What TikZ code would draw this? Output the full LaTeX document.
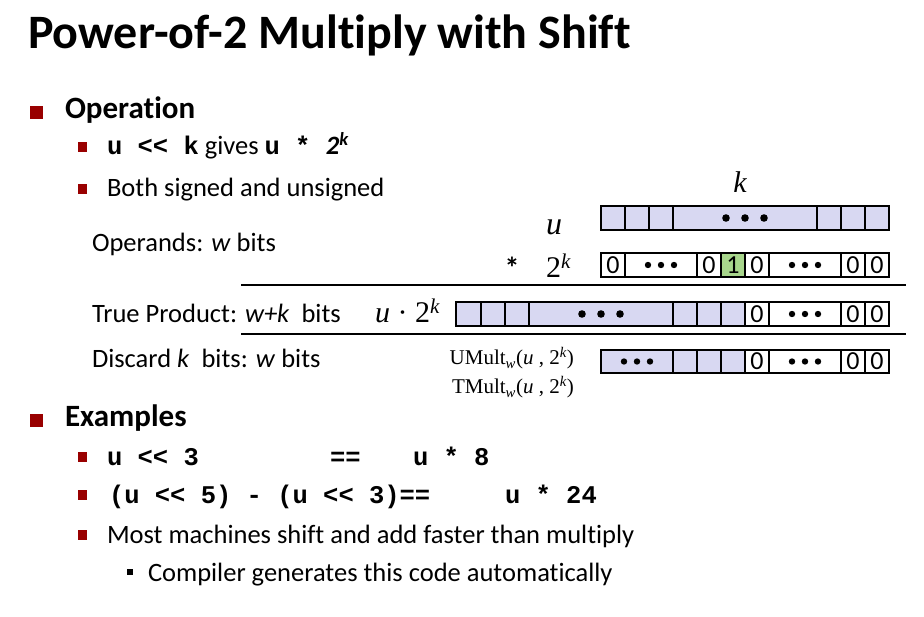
\documentclass[tikz,border=0pt]{standalone}
\usepackage{fontspec}
\setmainfont{Carlito}[Ligatures={TeX,NoCommon}]
\setmonofont{Liberation Mono}
\newfontfamily\timesfont{Liberation Serif}
\definecolor{slidered}{RGB}{153,0,0}
\definecolor{bitfill}{RGB}{216,216,242}
\definecolor{onefill}{RGB}{168,214,140}
\newcommand{\fsz}[1]{\fontsize{#1}{#1}\selectfont}

\begin{document}
\begin{tikzpicture}[x=1pt,y=-1pt,
  txt/.style={anchor=base west, inner sep=0pt, outer sep=0pt},
  titletext/.style={txt, font=\fsz{48}\bfseries},
  headtext/.style={txt, font=\fsz{31}\bfseries},
  bodytext/.style={txt, font=\fsz{26.5}},
  codetext/.style={txt, font=\fsz{25.5}\ttfamily\bfseries},
  mathlbl/.style={anchor=base, inner sep=0pt, font=\fsz{30}\timesfont\itshape},
  funclbl/.style={anchor=base east, inner sep=0pt, font=\fsz{21}\timesfont},
  bitcell/.style={draw=black, line width=1.8pt},
  bitdigit/.style={inner sep=0pt, font=\fsz{26}},
  rulebar/.style={draw=black, line width=2pt},
  bulletone/.style={fill=slidered},
  bullettwo/.style={fill=slidered},
  bulletthree/.style={fill=black}
]
\fill[white] (0,0) rectangle (924,617);
\useasboundingbox (0,0) rectangle (924,617);

% ---------- title ----------
\node[titletext] (title) at (28,49) {Power-of-2 Multiply with Shift};

% ---------- operation section ----------
\fill[bulletone] (30,106) rectangle (43,119);
\node[headtext] (ophead) at (65,119) {Operation};

\fill[bullettwo] (78,142) rectangle (87,152);
\node[bodytext] (shiftline) at (107,155)
  {{\ttfamily\bfseries\fsz{25.5}u <{}< k} gives {\ttfamily\bfseries\fsz{25.5}u * }{\bfseries\itshape 2\textsuperscript{k}}};

\fill[bullettwo] (78,184) rectangle (87,194);
\node[bodytext] (signline) at (107,197) {Both signed and unsigned};

\node[bodytext] (operands) at (92,252) {Operands: \textit{w} bits};
\node[bodytext] (trueprod) at (92,323) {True Product: \textit{w+k}\ \ bits};
\node[bodytext] (discard) at (92,368) {Discard \textit{k}\ \ bits: \textit{w} bits};

% ---------- bit vectors ----------
\node[mathlbl] (klbl) at (740,193) {k};
\node[mathlbl, font=\fsz{32}\timesfont\itshape] (ulbl) at (554,235) {u};
\node[anchor=base, inner sep=0pt, font=\fsz{30}\bfseries] (times) at (512,279) {*};
\node[anchor=base west, inner sep=0pt, font=\fsz{30}\timesfont] (twok) at (546,278) {2\textsuperscript{\itshape k}};
\node[anchor=base west, inner sep=0pt, font=\fsz{30}\timesfont] (prodlbl) at (375,323)
  {\textit{u} · 2\textsuperscript{\itshape k}};
\node[funclbl] (umult) at (574,365) {UMult\textsubscript{\itshape w}(\textit{u} , 2\textsuperscript{\itshape k})};
\node[funclbl] (tmult) at (574,394) {TMult\textsubscript{\itshape w}(\textit{u} , 2\textsuperscript{\itshape k})};

% separating rules around the true product
\coordinate (ruleAl) at (241,285); \coordinate (ruleAr) at (906,285);
\coordinate (ruleBl) at (241,334); \coordinate (ruleBr) at (906,334);
\draw[rulebar] (ruleAl) -- (ruleAr);
\draw[rulebar] (ruleBl) -- (ruleBr);

% operand u
\foreach \a/\b in {601/625,625/649,649/673,673/817,817/841,841/865,865/889}
  \draw[bitcell, fill=bitfill] (\a,206) rectangle (\b,230);
\foreach \x in {726,745,764} \fill (\x,218) circle[radius=3.8pt];

% operand 2^k
\foreach \a/\b in {601/625,625/697,697/721,745/769,769/841,841/865,865/889}
  \draw[bitcell, fill=white] (\a,253) rectangle (\b,277);
\draw[bitcell, fill=onefill] (721,253) rectangle (745,277);
\node[bitdigit] (p0) at (613,265) {0};
\node[bitdigit] (p1) at (709,265) {0};
\node[bitdigit] (p2) at (733,265) {1};
\node[bitdigit] (p3) at (757,265) {0};
\node[bitdigit] (p4) at (853,265) {0};
\node[bitdigit] (p5) at (877,265) {0};
\foreach \x in {648,661,674,792,805,818} \fill (\x,265) circle[radius=3.2pt];

% true product
\foreach \a/\b in {456/481,481/505,505/529,529/673,673/697,697/721,721/745}
  \draw[bitcell, fill=bitfill] (\a,302) rectangle (\b,326);
\foreach \a/\b in {745/769,769/841,841/865,865/889}
  \draw[bitcell, fill=white] (\a,302) rectangle (\b,326);
\foreach \x in {582,601,620} \fill (\x,314) circle[radius=3.8pt];
\node[bitdigit] (t0) at (757,314) {0};
\node[bitdigit] (t1) at (853,314) {0};
\node[bitdigit] (t2) at (877,314) {0};
\foreach \x in {792,805,818} \fill (\x,314) circle[radius=3.2pt];

% truncated result
\foreach \a/\b in {601/673,673/697,697/721,721/745}
  \draw[bitcell, fill=bitfill] (\a,350) rectangle (\b,373);
\foreach \a/\b in {745/769,769/841,841/865,865/889}
  \draw[bitcell, fill=white] (\a,350) rectangle (\b,373);
\foreach \x in {624,637,650,792,805,818} \fill (\x,361.5) circle[radius=3.2pt];
\node[bitdigit] (r0) at (757,361.5) {0};
\node[bitdigit] (r1) at (853,361.5) {0};
\node[bitdigit] (r2) at (877,361.5) {0};

% ---------- examples ----------
\fill[bulletone] (30,414) rectangle (43,427);
\node[headtext] (exhead) at (65,427) {Examples};

\fill[bullettwo] (78,452) rectangle (87,462);
\node[codetext] (exa) at (107,465) {u <{}< 3};
\node[codetext] (exaeq) at (330,465) {==};
\node[codetext] (exares) at (413,465) {u * 8};

\fill[bullettwo] (78,490) rectangle (87,500);
\node[codetext] (exb) at (109,503) {(u <{}< 5) - (u <{}< 3)==};
\node[codetext] (exbres) at (505,503) {u * 24};

\fill[bullettwo] (78,530) rectangle (87,540);
\node[bodytext] (faster) at (107,543) {Most machines shift and add faster than multiply};

\fill[bulletthree] (127,569) rectangle (133,575);
\node[bodytext] (compiler) at (148,581) {Compiler generates this code automatically};
\end{tikzpicture}
\end{document}
